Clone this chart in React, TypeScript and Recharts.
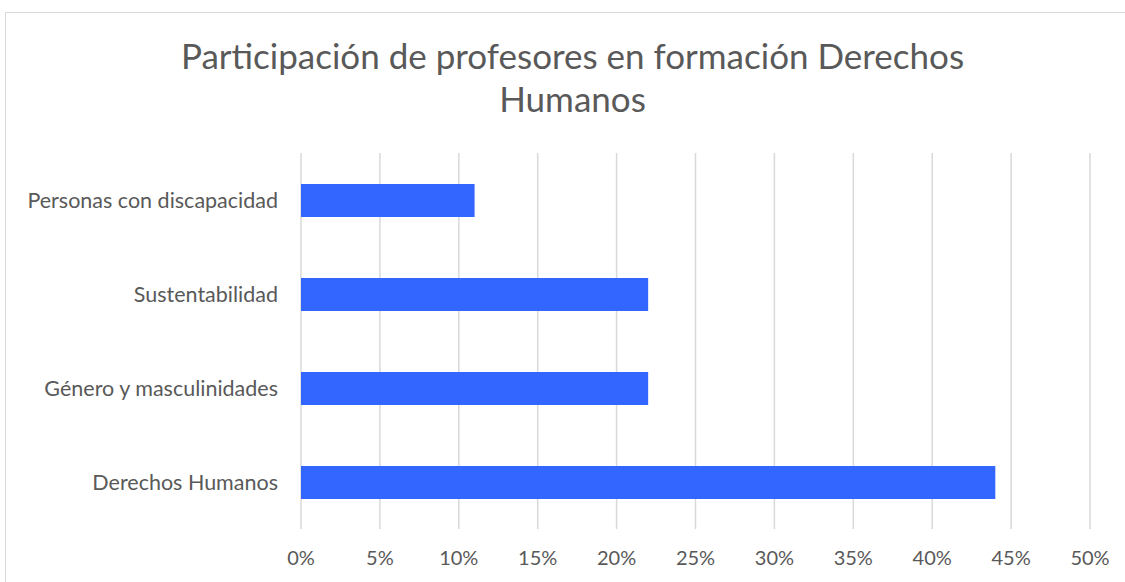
import { BarChart, Bar, XAxis, YAxis, CartesianGrid } from "recharts";

const categorias = [
  "Personas con discapacidad",
  "Sustentabilidad",
  "Género y masculinidades",
  "Derechos Humanos",
];
const porcentajes = [11, 22, 22, 44];
const ticksX = [0, 5, 10, 15, 20, 25, 30, 35, 40, 45, 50];

const dati = categorias.map((c, i) => ({ categoria: c, valore: porcentajes[i] }));

const FONT = "Lato, 'Open Sans', sans-serif";
const GRIGIO = "#595959";

export default function App() {
  return (
    <div style={{ position: "absolute", left: 0, top: 0, width: 1125, height: 582, overflow: "hidden", background: "white", fontFamily: FONT }}>
      <div style={{ position: "absolute", left: 5, top: 12, width: 1140, height: 600, border: "1.5px solid #d9d9d9" }} />
      <div style={{ position: "absolute", left: 0, top: 34, width: 1145, textAlign: "center", fontSize: 35, lineHeight: "43px", color: GRIGIO }}>
        Participación de profesores en formación Derechos
        <br />
        Humanos
      </div>
      <div style={{ position: "absolute", left: 0, top: 0 }}>
        <BarChart
          width={1125}
          height={582}
          data={dati}
          layout="vertical"
          margin={{ top: 153, right: 35, bottom: 0, left: 0 }}
        >
          <CartesianGrid horizontal={false} stroke="#d9d9d9" strokeWidth={1.5} />
          <XAxis
            type="number"
            domain={[0, 50]}
            ticks={ticksX}
            tickFormatter={(v: number) => `${v}%`}
            axisLine={false}
            tickLine={false}
            height={53}
            tickSize={0}
            tickMargin={22}
            tick={{ fill: GRIGIO, fontSize: 20, fontFamily: FONT }}
          />
          <YAxis
            type="category"
            dataKey="categoria"
            width={301}
            axisLine={false}
            tickLine={false}
            tickSize={0}
            tickMargin={23}
            tick={{ fill: GRIGIO, fontSize: 21.5, fontFamily: FONT }}
          />
          <Bar dataKey="valore" fill="#3366ff" barSize={33} isAnimationActive={false} />
        </BarChart>
      </div>
    </div>
  );
}
